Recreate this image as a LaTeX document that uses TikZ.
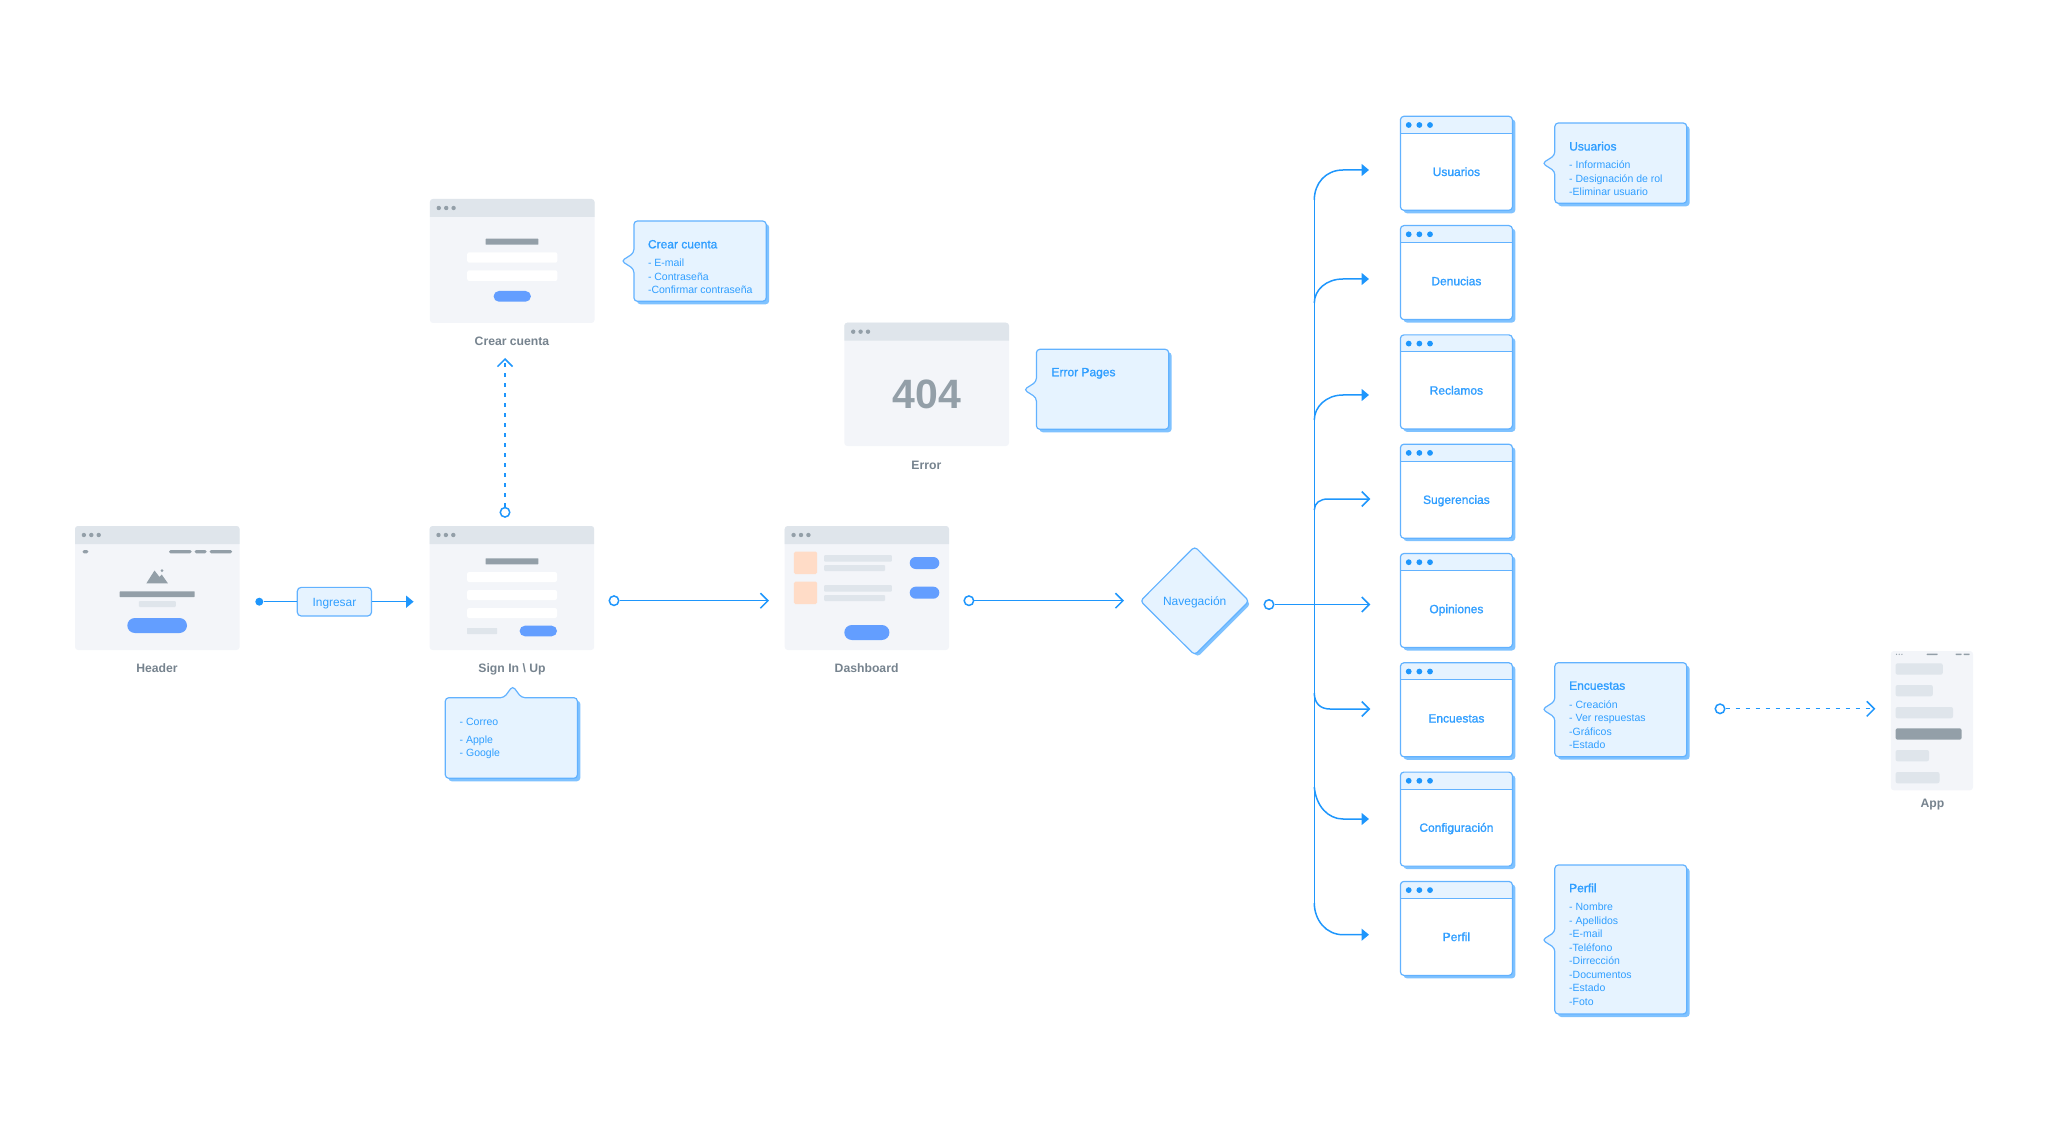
\documentclass[tikz,border=0pt]{standalone}
\usepackage{fontspec}
\setmainfont{Liberation Sans}
\newfontfamily\medf[FakeBold=1.2]{Liberation Sans}
\usetikzlibrary{arrows.meta,calc}
\definecolor{linec}{HTML}{1E96FC}
\definecolor{bordc}{HTML}{62B2FF}
\definecolor{shadc}{HTML}{7FC2FF}
\definecolor{callf}{HTML}{E6F3FF}
\definecolor{txtb}{HTML}{2F9EFF}
\definecolor{winbg}{HTML}{F3F5F9}
\definecolor{winbar}{HTML}{DFE5EB}
\definecolor{grayd}{HTML}{939FA8}
\definecolor{btnb}{HTML}{639EFF}
\definecolor{orng}{HTML}{FFDCC7}
\definecolor{labg}{HTML}{76838E}
\tikzset{
  conn/.style={draw=linec,line width=1.5pt},
  solidhead/.style={conn,-{Triangle[length=7.5pt,width=12pt]}},
  barbhead/.style={conn,-{Straight Barb[length=7.5pt,width=15pt,line width=1.5pt]}},
  dashline/.style={line width=1.3pt,dash pattern=on 4pt off 6pt},
  ring/.style={circle,draw=linec,line width=1.5pt,fill=white,minimum size=9.5pt,inner sep=0pt},
  soliddot/.style={circle,fill=linec,minimum size=8pt,inner sep=0pt},
  winnode/.style={anchor=north west,inner sep=0pt,outer sep=0pt,rounded corners=3pt,fill=winbg},
  labeltxt/.style={inner sep=0pt,text height=9pt,text depth=0.4pt,text=labg,font=\bfseries\fontsize{12.2}{14}\selectfont},
  bluetxt/.style={inner sep=0pt,text height=9pt,text depth=0.4pt,text=txtb,font=\medf\fontsize{12}{14}\selectfont},
  calltxt/.style={inner sep=0pt,anchor=north west,align=left,text=txtb,font=\fontsize{10.5}{13.5}\selectfont},
  calloutline/.style={draw=bordc,line width=1.2pt,fill=callf,rounded corners=3.5pt},
  shadowfill/.style={fill=shadc,rounded corners=3.5pt},
}
\newcommand{\rbar}[6]{\fill[#1,rounded corners=#6pt] (#2,#3) rectangle (#4,#5);}
% name, x, y, w, h
\newcommand{\graywin}[5]{%
  \node[winnode,minimum width=#4pt,minimum height=#5pt] (#1) at (#2,#3) {};
  \fill[winbar] (#2,#3+18) [rounded corners=3pt] -- (#2,#3) -- (#2+#4,#3) [sharp corners] -- (#2+#4,#3+18) -- cycle;
  \foreach \d in {0,1,2} \fill[grayd] (#2+8.9+7.4*\d,#3+9) circle (2.2);
}
% name, text, y top
\newcommand{\bluewin}[3]{%
  \fill[shadowfill] (1403.5,#3+3) rectangle (1515.4,#3+97);
  \node[anchor=north west,inner sep=0pt,outer sep=0pt,minimum width=112pt,minimum height=94pt,fill=white,rounded corners=3.5pt] (#1) at (1400.4,#3) {};
  \fill[callf] (1400.4,#3+17) [rounded corners=3.5pt] -- (1400.4,#3) -- (1512.4,#3) [sharp corners] -- (1512.4,#3+17) -- cycle;
  \draw[bordc,line width=1.2pt,rounded corners=3.5pt] (1400.4,#3) rectangle (1512.4,#3+94);
  \draw[bordc,line width=1.2pt] (1400.4,#3+17) -- (1512.4,#3+17);
  \foreach \d in {0,1,2} \fill[linec] (1408.7+10.65*\d,#3+8.7) circle (2.9);
  \node[bluetxt] (#1-t) at (1456.4,#3+55.4) {#2};
}
% x1,y1,x2,y2,tab y : callout with its tab on the left
\newcommand{\calloutleft}[5]{%
  \fill[shadowfill] (#1+3,#2+3) rectangle (#3+3,#4+3);
  \path[calloutline] (#1,#5+8) -- (#1-12.5,#5) -- (#1,#5-8) -- (#1,#2) -- (#3,#2) -- (#3,#4) -- (#1,#4) -- cycle;
}
\begin{document}
\begin{tikzpicture}[x=1pt,y=-1pt]
\useasboundingbox (0,0) rectangle (2048,1131);

% ---------- Header
\graywin{header}{75}{526}{164.6}{124}
\rbar{grayd}{82.5}{550}{88.3}{553.3}{1.5}
\rbar{grayd}{169}{550}{191.6}{553.3}{1.5}
\rbar{grayd}{194.7}{550}{206.5}{553.3}{1.5}
\rbar{grayd}{209.6}{550}{232}{553.3}{1.5}
\fill[grayd] (146.4,583.3) -- (154.5,570.5) -- (159.5,577) -- (161.7,574.5) -- (167.9,583.3) -- cycle;
\fill[grayd] (162,570.7) circle (1.5);
\rbar{grayd}{119.7}{591.3}{194.7}{597}{0.5}
\rbar{winbar}{138.8}{601}{175.9}{607}{1}
\rbar{btnb}{127.3}{618}{187}{633}{7.5}
\node[labeltxt] (headerlab) at (157,668) {Header};

% ---------- Sign in
\graywin{signin}{429.6}{526}{164.6}{124}
\rbar{grayd}{485.5}{558.3}{538.3}{564.3}{0.5}
\rbar{white}{467.1}{572}{557}{582}{2}
\rbar{white}{467.1}{590}{557}{600}{2}
\rbar{white}{467.1}{608}{557}{618}{2}
\rbar{winbar}{467.1}{628}{497}{634}{0.5}
\rbar{btnb}{519.6}{625.7}{557}{636.3}{5.3}
\node[labeltxt] (signinlab) at (512,668) {Sign In \textbackslash{} Up};

% sign in callout
\fill[shadowfill] (448.3,700.7) rectangle (580.4,781.3);
\path[calloutline] (504,697.7) -- (512.7,686) -- (521.5,697.7) -- (577.4,697.7) -- (577.4,778.3) -- (445.3,778.3) -- (445.3,697.7) -- cycle;
\node[calltxt] (signtxt) at (459.5,717.5) {- Correo\\[4.5pt]- Apple\\- Google};

% ---------- Crear cuenta
\graywin{crear}{429.9}{199}{164.6}{124}
\rbar{grayd}{485.6}{238.7}{538.4}{244.7}{0.5}
\rbar{white}{467.2}{252.3}{557.3}{262.7}{2}
\rbar{white}{467.2}{270.3}{557.3}{281}{2}
\rbar{btnb}{493.6}{291}{530.9}{301.7}{5.3}
\node[labeltxt] (crearlab) at (512,341) {Crear cuenta};
\calloutleft{633.9}{221}{766.2}{301.3}{261}
\node[calltxt] (creartxt) at (647.8,239.8) {{\medf\fontsize{12}{13.5}\selectfont Crear cuenta}\\[5pt]- E-mail\\- Contraseña\\-Confirmar contraseña};

% ---------- Error
\graywin{errorw}{844.3}{322.7}{164.7}{123.3}
\node[inner sep=0pt,text=grayd,font=\fontsize{41}{44}\selectfont\bfseries] (err404) at (927,394) {404};
\node[labeltxt] (errorlab) at (926.4,464.7) {Error};
\calloutleft{1036.4}{349.3}{1168.7}{429.3}{389.7}
\node[calltxt] (errtxt) at (1051.3,367.8) {{\medf\fontsize{12}{13.5}\selectfont Error Pages}};

% ---------- Dashboard
\graywin{dash}{784.7}{526}{164.3}{124}
\rbar{orng}{793.9}{551.7}{817.2}{574}{1.5}
\rbar{orng}{793.9}{581.7}{817.2}{604}{1.5}
\rbar{winbar}{824}{555}{891.8}{561.7}{1}
\rbar{winbar}{824}{565}{885}{571}{1}
\rbar{winbar}{824}{585}{891.8}{591.7}{1}
\rbar{winbar}{824}{595}{885}{601}{1}
\rbar{btnb}{909.7}{557}{939.3}{569}{6}
\rbar{btnb}{909.7}{586.7}{939.3}{598.7}{6}
\rbar{btnb}{844.3}{625}{889.4}{640}{7.5}
\node[labeltxt] (dashlab) at (866.6,668.3) {Dashboard};

% ---------- Navigation diamond
\fill[shadowfill] (1197.7,551.3) -- (1250.6,604) -- (1197.7,657) -- (1145,604) -- cycle;
\path[calloutline] (1194.7,546.6) -- (1249,601) -- (1194.7,655) -- (1140.4,601) -- cycle;
\node[inner sep=0pt,text height=9pt,text depth=0.4pt,text=txtb,font=\fontsize{12}{14}\selectfont] (nav) at (1194.7,601) {Navegación};

% ---------- Blue windows
\bluewin{usuarios}{Usuarios}{116.3}
\bluewin{denuncias}{Denucias}{225.6}
\bluewin{reclamos}{Reclamos}{334.9}
\bluewin{sugerencias}{Sugerencias}{444.2}
\bluewin{opiniones}{Opiniones}{553.5}
\bluewin{encuestas}{Encuestas}{662.8}
\bluewin{config}{Configuración}{772.1}
\bluewin{perfil}{Perfil}{881.4}

% callouts of the blue windows
\calloutleft{1554.8}{123}{1686.7}{203.3}{163.3}
\node[calltxt] (ustxt) at (1569,141.6) {{\medf\fontsize{12}{13.5}\selectfont Usuarios}\\[5pt]- Información\\- Designación de rol\\-Eliminar usuario};
\calloutleft{1554.8}{662.7}{1686.7}{756.7}{709.3}
\node[calltxt] (entxt) at (1569,681.3) {{\medf\fontsize{12}{13.5}\selectfont Encuestas}\\[5pt]- Creación\\- Ver respuestas\\-Gráficos\\-Estado};
\calloutleft{1554.8}{865}{1686.7}{1014}{940}
\node[calltxt] (petxt) at (1569,883.3) {{\medf\fontsize{12}{13.5}\selectfont Perfil}\\[5pt]- Nombre\\- Apellidos\\-E-mail\\-Teléfono\\-Dirrección\\-Documentos\\-Estado\\-Foto};

% ---------- App
\node[winnode,minimum width=82.2pt,minimum height=139.3pt] (app) at (1890.8,651) {};
\foreach \d in {0,1,2} \fill[grayd] (1896.5+2.7*\d,654.3) circle (0.7);
\rbar{grayd}{1926.7}{653.6}{1937.6}{655}{0.5}
\rbar{grayd}{1955.5}{653.6}{1961.6}{655}{0.5}
\rbar{grayd}{1963.5}{653.6}{1969.6}{655}{0.5}
\rbar{winbar}{1895.6}{663.3}{1942.8}{674.7}{2}
\rbar{winbar}{1895.6}{685}{1932.8}{696.3}{2}
\rbar{winbar}{1895.6}{707}{1953}{718.3}{2}
\rbar{grayd}{1895.6}{728.3}{1961.6}{739.7}{2}
\rbar{winbar}{1895.6}{750}{1929}{761.3}{2}
\rbar{winbar}{1895.6}{772}{1939.5}{783.3}{2}
\node[labeltxt] (applab) at (1932.4,803) {App};

% ---------- Connectors
\node[soliddot] (d1) at (259.3,601.7) {};
\node[draw=bordc,line width=1.2pt,fill=callf,rounded corners=4pt,minimum width=74.3pt,minimum height=28.7pt,inner sep=0pt,text height=9pt,text depth=0.4pt,text=txtb,font=\fontsize{11.9}{14}\selectfont] (ingresar) at (334.4,601.7) {Ingresar};
\coordinate (t1) at (413.6,601.7);
\draw[conn] (d1) -- (ingresar);
\draw[solidhead] (ingresar) -- (t1);

\node[ring] (c2) at (505,512.3) {};
\coordinate (t2) at (505,358);
\draw[barbhead,dashline] (c2) -- (t2);

\node[ring] (c3) at (614,600.7) {};
\coordinate (t3) at (769,600.7);
\draw[barbhead] (c3) -- (t3);

\node[ring] (c4) at (968.9,600.7) {};
\coordinate (t4) at (1124,600.7);
\draw[barbhead] (c4) -- (t4);

\node[ring] (c5) at (1269,604.5) {};
\coordinate (t5) at (1370.3,604.5);

\coordinate (st) at (1314.3,200);
\coordinate (sb) at (1314.3,903);
\draw[conn] (st) -- (sb);

\coordinate (t6a) at (1369,170);
\coordinate (t6b) at (1369,279);
\coordinate (t6c) at (1369,395);
\coordinate (t6d) at (1370.3,499);
\coordinate (t6e) at (1370.3,709);
\coordinate (t6f) at (1369,819);
\coordinate (t6g) at (1369,934.7);
\draw[solidhead] (st) .. controls (1314.3,183) and (1326,170) .. (1343,170) -- (t6a);
\draw[solidhead] (1314.3,303) .. controls (1314.3,290) and (1326,279) .. (1343,279) -- (t6b);
\draw[solidhead] (1314.3,420) .. controls (1314.3,407) and (1326,395) .. (1343,395) -- (t6c);
\draw[barbhead] (1314.3,510) .. controls (1314.3,503) and (1320,499) .. (1328,499) -- (t6d);
\draw[barbhead] (c5) -- (t5);
\draw[barbhead] (1314.3,693) .. controls (1314.3,703) and (1320,709) .. (1330,709) -- (t6e);
\draw[solidhead] (1314.3,787) .. controls (1316,806) and (1328,819) .. (1343,819) -- (t6f);
\draw[solidhead] (sb) .. controls (1314.3,920) and (1326,934.7) .. (1343,934.7) -- (t6g);

\node[ring] (c7) at (1720,708.8) {};
\coordinate (t7) at (1875.3,708.8);
\draw[barbhead,dashline] (c7) -- (t7);
\end{tikzpicture}
\end{document}
